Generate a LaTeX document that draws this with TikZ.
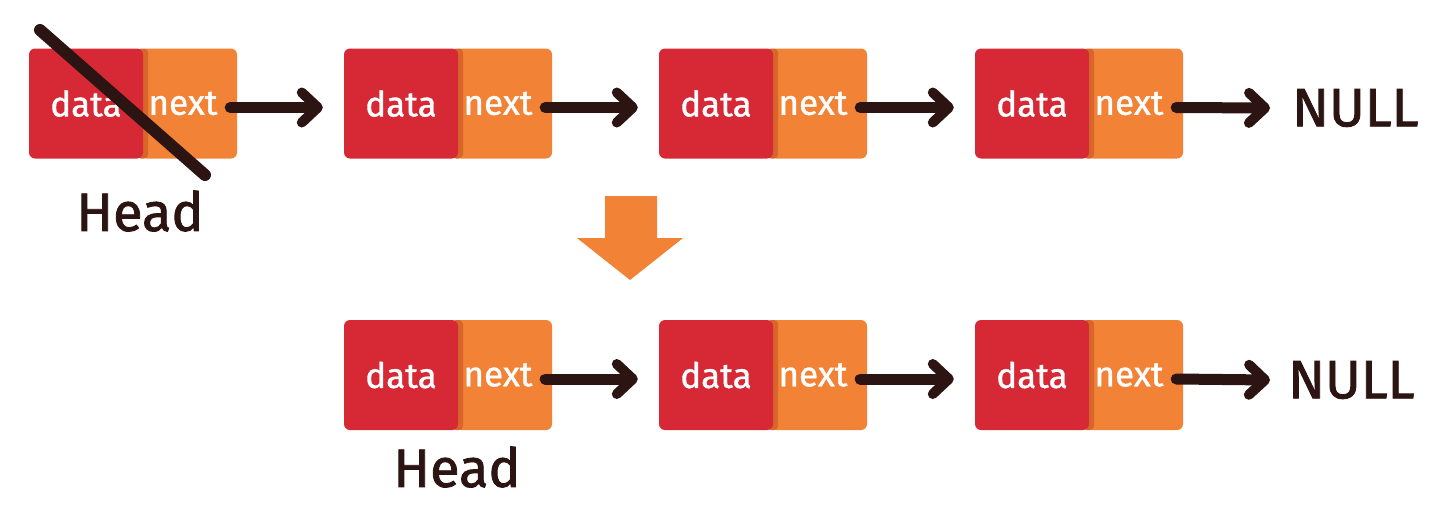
\documentclass[tikz,border=0pt]{standalone}
\usepackage{fontspec}
\setmainfont{Fira Sans}
\newfontfamily\inkfont[FakeBold=1.5]{Fira Sans}
\newfontfamily\boxfont[FakeBold=1]{Fira Sans}
\usetikzlibrary{arrows.meta}
\definecolor{cred}{HTML}{D72935}
\definecolor{corange}{HTML}{F28236}
\definecolor{cseam}{HTML}{D8662A}
\definecolor{cink}{HTML}{2B1411}
\tikzset{
  databox/.style={fill=cred, rounded corners=6pt, minimum width=114pt, minimum height=110pt, inner sep=0pt, text=white, font=\boxfont\fontsize{35}{35}\selectfont},
  nextbox/.style={fill=corange, rounded corners=6pt, minimum width=97pt, minimum height=110pt, inner sep=0pt},
  nexttext/.style={text=white, font=\boxfont\fontsize{35}{35}\selectfont, inner sep=0pt},
  link/.style={draw=cink, line width=11pt, line cap=round, -{Straight Barb[length=16pt, width=30pt, line width=10pt, round]}},
  label/.style={text=cink, font=\inkfont\fontsize{54}{54}\selectfont, inner sep=0pt},
}
\begin{document}
\begin{tikzpicture}[x=1pt,y=-1pt]
\useasboundingbox (0,0) rectangle (1456,515);
% top row
\foreach \i/\L in {1/29,2/344,3/659,4/975}{
  \node[nextbox] (tn\i) at (\L+159.5,103.5) {};
  \fill[cseam, rounded corners=4pt] (\L+108,48.5) rectangle (\L+119,158.5);
  \node[databox] (td\i) at (\L+57,103.5) {data};
  \node[nexttext] (tt\i) at (\L+154,103.5) {next};
}
% bottom row
\foreach \i/\L in {1/344,2/659,3/975}{
  \node[nextbox] (bn\i) at (\L+159.5,375) {};
  \fill[cseam, rounded corners=4pt] (\L+108,320) rectangle (\L+119,430);
  \node[databox] (bd\i) at (\L+57,375) {data};
  \node[nexttext] (bt\i) at (\L+154,375) {next};
}
\node[label, anchor=west] (tnull) at (1292,108) {NULL};
\node[label, anchor=west] (bnull) at (1288,380) {NULL};
\node[label] (thead) at (140,211) {Head};
\node[label] (bhead) at (457,467) {Head};
% links top
\foreach \a/\b in {1/2,2/3,3/4}{
  \draw[link] ([xshift=-7pt,yshift=-4pt]tn\a.east) -- ([xshift=-21pt,yshift=-4pt]td\b.west);
}
\draw[link] ([xshift=-7pt,yshift=-4pt]tn4.east) -- ([xshift=-22pt]tnull.west);
% links bottom
\foreach \a/\b in {1/2,2/3}{
  \draw[link] ([xshift=-7pt,yshift=-4pt]bn\a.east) -- ([xshift=-21pt,yshift=-4pt]bd\b.west);
}
\draw[link] ([xshift=-7pt,yshift=-4pt]bn3.east) -- ([xshift=-18pt]bnull.west);
% strike-through of old head
\draw[cink, line width=12pt, line cap=round] (40,30) -- (205,175);
% transition arrow
\fill[corange] (605,196) -- (657,196) -- (657,238) -- (683,238) -- (630,280) -- (577,238) -- (605,238) -- cycle;
\end{tikzpicture}
\end{document}
